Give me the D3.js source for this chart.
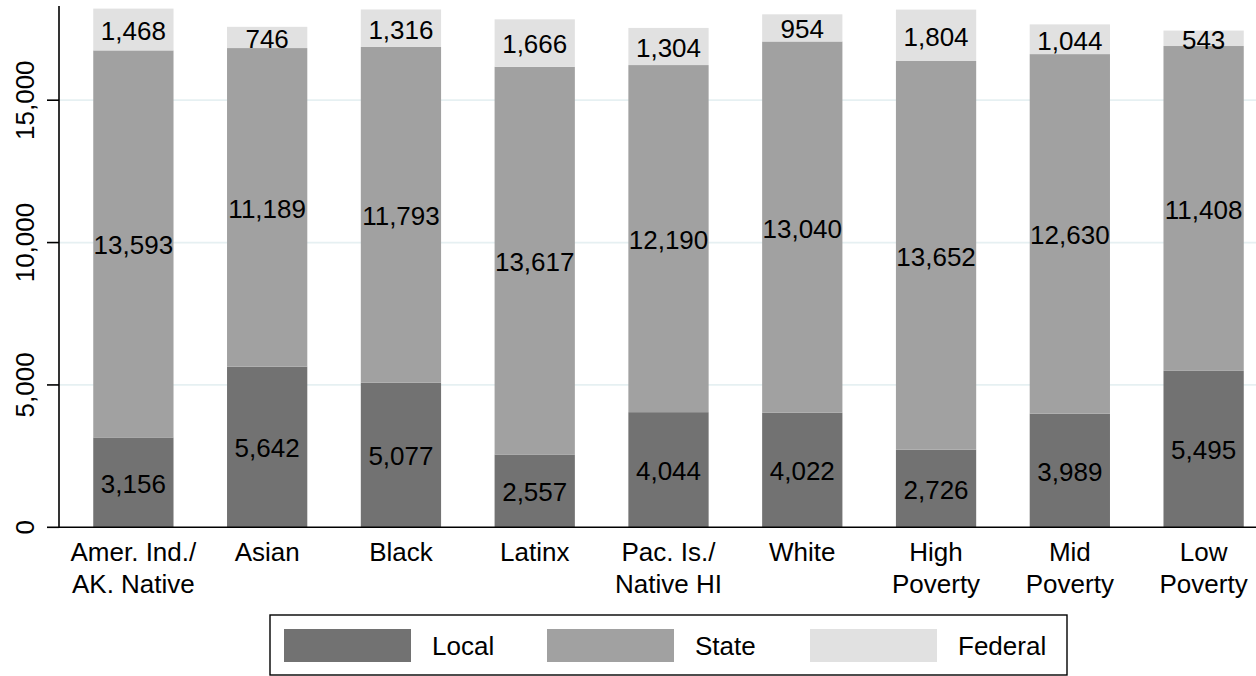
<!DOCTYPE html>
<html>
<head>
<meta charset="utf-8">
<script src="https://cdn.jsdelivr.net/npm/d3@7"></script>
<style>
  html, body { margin: 0; padding: 0; background: #fff; }
  svg { display: block; font-family: "Liberation Sans", Arial, Helvetica, sans-serif; }
</style>
</head>
<body>
<svg id="chart" width="1256" height="676"></svg>
<script>
// Per-pupil revenue by source, grouped by student race/ethnicity and district poverty
const categories = [
  ["Amer. Ind./", "AK. Native"],
  ["Asian"],
  ["Black"],
  ["Latinx"],
  ["Pac. Is./", "Native HI"],
  ["White"],
  ["High", "Poverty"],
  ["Mid", "Poverty"],
  ["Low", "Poverty"]
];
const localValues   = [3156, 5642, 5077, 2557, 4044, 4022, 2726, 3989, 5495];
const stateValues   = [13593, 11189, 11793, 13617, 12190, 13040, 13652, 12630, 11408];
const federalValues = [1468, 746, 1316, 1666, 1304, 954, 1804, 1044, 543];
const seriesNames   = ["Local", "State", "Federal"];
const yTicks        = [0, 5000, 10000, 15000];

const colors = { Local: "#727272", State: "#a1a1a1", Federal: "#e1e1e1" };

const svg = d3.select("#chart");
const W = 1256;
const plot = { left: 59, top: 6, bottom: 527.3 };

const rows = categories.map((c, i) => ({
  key: i, label: c,
  Local: localValues[i], State: stateValues[i], Federal: federalValues[i]
}));

const x = d3.scaleBand()
  .domain(rows.map(d => d.key))
  .range([plot.left, 1278])
  .paddingInner(0.4)
  .paddingOuter(0.256);

const y = d3.scaleLinear()
  .domain([0, 15000])
  .range([plot.bottom, 100.2]);

const fmt = d3.format(",");

// gridlines
svg.append("g").selectAll("line")
  .data(yTicks.filter(t => t > 0))
  .join("line")
  .attr("x1", plot.left).attr("x2", W)
  .attr("y1", d => y(d)).attr("y2", d => y(d))
  .attr("stroke", "#e6f0f2").attr("stroke-width", 1.8);

// stacked bars
const stack = d3.stack().keys(seriesNames)(rows);
const layers = svg.append("g").selectAll("g")
  .data(stack)
  .join("g")
  .attr("fill", d => colors[d.key]);

layers.selectAll("rect")
  .data(d => d)
  .join("rect")
  .attr("x", d => x(d.data.key))
  .attr("width", x.bandwidth())
  .attr("y", d => y(d[1]))
  .attr("height", d => y(d[0]) - y(d[1]));

// value labels centred in each segment
const labels = svg.append("g")
  .attr("font-size", 26)
  .attr("fill", "#000")
  .attr("text-anchor", "middle");
stack.forEach(layer => {
  labels.selectAll(null)
    .data(layer)
    .join("text")
    .attr("x", d => x(d.data.key) + x.bandwidth() / 2)
    .attr("y", d => (y(d[0]) + y(d[1])) / 2)
    .attr("dy", "0.4em")
    .text(d => fmt(d.data[layer.key]));
});

// y axis
const yAxis = svg.append("g");
yAxis.append("line")
  .attr("x1", plot.left).attr("x2", plot.left)
  .attr("y1", plot.top).attr("y2", plot.bottom)
  .attr("stroke", "#000").attr("stroke-width", 1.6);
yAxis.selectAll("line.tick")
  .data(yTicks)
  .join("line")
  .attr("class", "tick")
  .attr("x1", plot.left - 12).attr("x2", plot.left)
  .attr("y1", d => y(d)).attr("y2", d => y(d))
  .attr("stroke", "#000").attr("stroke-width", 1.6);
yAxis.selectAll("text")
  .data(yTicks)
  .join("text")
  .attr("transform", d => `translate(34,${y(d)}) rotate(-90)`)
  .attr("text-anchor", "middle")
  .attr("font-size", 26)
  .text(d => fmt(d));

// x axis
svg.append("line")
  .attr("x1", plot.left).attr("x2", W)
  .attr("y1", plot.bottom).attr("y2", plot.bottom)
  .attr("stroke", "#000").attr("stroke-width", 1.6);

const xLabels = svg.append("g")
  .attr("font-size", 26)
  .attr("text-anchor", "middle");
xLabels.selectAll("text")
  .data(rows)
  .join("text")
  .attr("x", d => x(d.key) + x.bandwidth() / 2)
  .attr("y", 561)
  .each(function(d) {
    const t = d3.select(this);
    d.label.forEach((line, i) => {
      t.append("tspan")
        .attr("x", x(d.key) + x.bandwidth() / 2)
        .attr("dy", i === 0 ? 0 : 32)
        .text(line);
    });
  });

// legend
const legend = svg.append("g");
legend.append("rect")
  .attr("x", 270).attr("y", 615)
  .attr("width", 797).attr("height", 60)
  .attr("fill", "#fff").attr("stroke", "#000").attr("stroke-width", 1.4);
const legendX = d3.scalePoint().domain(seriesNames).range([284, 810]);
const items = legend.selectAll("g.item")
  .data(seriesNames)
  .join("g")
  .attr("class", "item")
  .attr("transform", d => `translate(${legendX(d)},629)`);
items.append("rect")
  .attr("width", 127).attr("height", 33)
  .attr("fill", d => colors[d]);
items.append("text")
  .attr("x", 148)
  .attr("y", 26)
  .attr("font-size", 26)
  .text(d => d);
</script>
</body>
</html>
